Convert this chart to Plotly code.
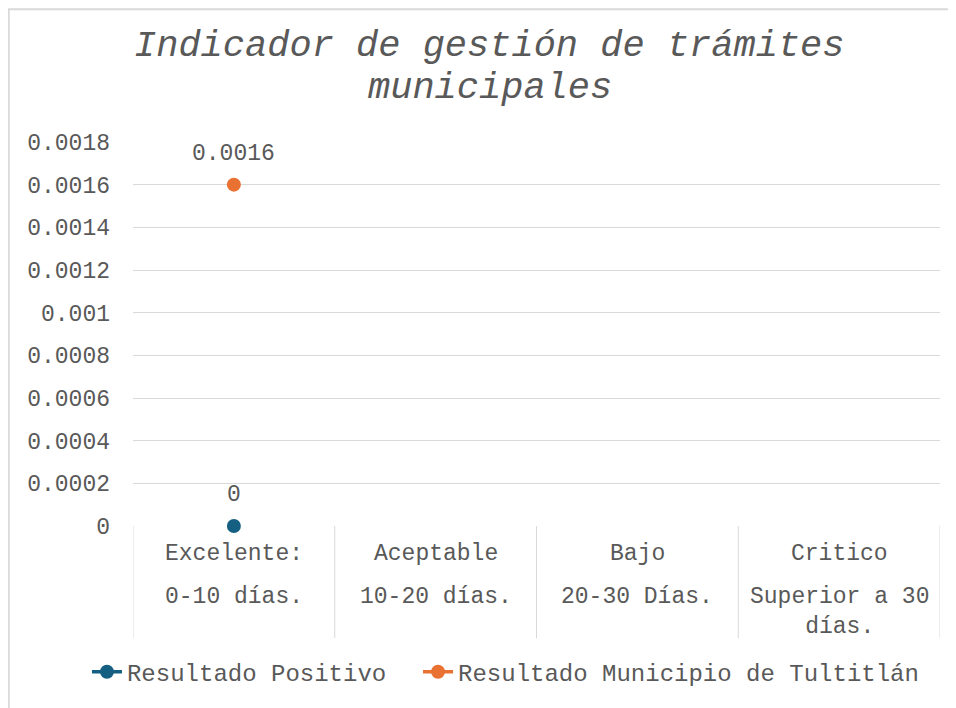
import plotly.graph_objects as go

# ---- data ----
categories = ["Excelente:", "Aceptable", "Bajo", "Critico"]
category_line1 = ["Excelente:", "Aceptable", "Bajo", "Critico"]
category_line2 = ["0-10 días.", "10-20 días.", "20-30 Días.", "Superior a 30<br>días."]
series_names = ["Resultado Positivo", "Resultado Municipio de Tultitlán"]
positivo = [0, None, None, None]
municipio = [0.0016, None, None, None]
y_tickvals = [0, 0.0002, 0.0004, 0.0006, 0.0008, 0.001, 0.0012, 0.0014, 0.0016, 0.0018]
y_ticktext = ["0", "0.0002", "0.0004", "0.0006", "0.0008", "0.001", "0.0012", "0.0014", "0.0016", "0.0018"]
title_lines = ["Indicador de gestión de trámites", "municipales"]

FONT = "Liberation Mono, Courier New, monospace"
TXT = "#595959"
GRID = "#D9D9D9"
colors = ["#156082", "#E97132"]
FS = 23

fig = go.Figure()
for name, vals, col, lg in zip(series_names, [positivo, municipio], colors, ["legend", "legend2"]):
    fig.add_trace(go.Scatter(
        x=categories, y=vals, name=name, mode="lines+markers",
        line=dict(color=col, width=3.5),
        marker=dict(color=col, size=14),
        connectgaps=False, cliponaxis=False, legend=lg,
    ))

annotations = []
# data labels
for vals in [positivo, municipio]:
    for c, v in zip(categories, vals):
        if v is not None:
            annotations.append(dict(x=c, y=v, xref="x", yref="y", text=f"{v:g}",
                                    showarrow=False, yshift=31,
                                    font=dict(family=FONT, size=FS, color=TXT)))
# category labels
for c, l1, l2 in zip(categories, category_line1, category_line2):
    annotations.append(dict(x=c, y=-0.073, xref="x", yref="paper", text=l1,
                            showarrow=False, yanchor="middle",
                            font=dict(family=FONT, size=FS, color=TXT)))
    annotations.append(dict(x=c, y=-0.185, xref="x", yref="paper", text=l2,
                            showarrow=False, yanchor="top", yshift=15,
                            font=dict(family=FONT, size=FS, color=TXT)))
# title
for i, t in enumerate(title_lines):
    annotations.append(dict(x=0.442, y=[1.250, 1.141][i], xref="paper", yref="paper",
                            text=f"<i>{t}</i>", showarrow=False, yanchor="middle",
                            font=dict(family=FONT, size=37, color=TXT)))

shapes = []
for b in [-0.5, 0.5, 1.5, 2.5, 3.5]:
    shapes.append(dict(type="line", xref="x", yref="paper", x0=b, x1=b, y0=0, y1=-0.292,
                       line=dict(color=GRID, width=1)))
shapes.append(dict(type="rect", xref="paper", yref="paper", x0=-0.154, x1=1.04,
                   y0=1.346, y1=-0.5, line=dict(color=GRID, width=2), layer="below"))

legend_common = dict(orientation="h", xref="container", yref="container",
                     xanchor="left", y=0.062, yanchor="middle",
                     font=dict(family=FONT, size=24, color=TXT), itemwidth=30,
                     bgcolor="rgba(0,0,0,0)")

fig.update_layout(
    width=956, height=708,
    margin=dict(l=125, r=24, t=134, b=190, autoexpand=False),
    paper_bgcolor="white", plot_bgcolor="white",
    font=dict(family=FONT, color=TXT, size=FS),
    showlegend=True,
    legend=dict(x=0.0826, **legend_common),
    legend2=dict(x=0.4289, **legend_common),
    annotations=annotations,
    shapes=shapes,
)
fig.update_xaxes(type="category", range=[-0.5, 3.5], showticklabels=False,
                 showgrid=False, zeroline=False, showline=False)
fig.update_yaxes(range=[0, 0.0018], tickvals=y_tickvals, ticktext=y_ticktext,
                 showgrid=True, gridcolor=GRID, gridwidth=1, zeroline=False,
                 showline=False, ticklabelstandoff=22,
                 tickfont=dict(family=FONT, size=FS, color=TXT))

fig.write_html("out.html")
